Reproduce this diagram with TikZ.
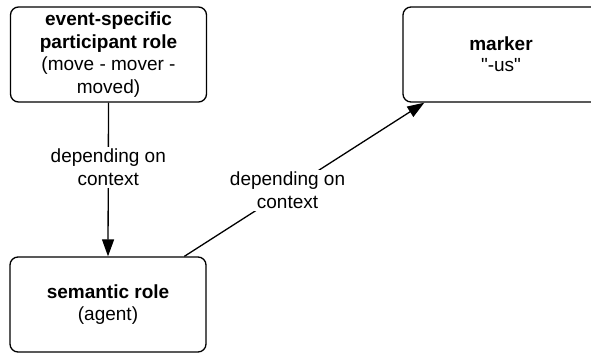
\documentclass[tikz,border=0pt]{standalone}
\usepackage{fontspec}
\setmainfont{Liberation Sans}[Ligatures=TeXOff]
\usetikzlibrary{arrows.meta,calc}
\tikzset{
  box/.style={draw=black, line width=1.3pt, rounded corners=8pt, minimum width=196pt, minimum height=95pt, align=center, inner sep=0pt, font=\fontsize{19}{22.8}\selectfont},
  conn/.style={line width=1.3pt, draw=black},
  arr/.style={-{Triangle[length=17pt,width=12pt]}},
  lbl/.style={fill=white, align=center, inner sep=2pt, font=\fontsize{19}{22.8}\selectfont}
}
\begin{document}
\begin{tikzpicture}[x=1pt,y=-1pt]
\clip (0,0) rectangle (591,353);
\useasboundingbox (0,0) rectangle (591,353);
\node[box] (top) at (108.5,54.5) {\textbf{event-specific}\\\textbf{participant role}\\(move - mover -\\moved)};
\node[box] (mark) at (501,54.5) {\textbf{marker}\\[-2pt]"-us"};
\node[box] (sem) at (108,304.5) {\textbf{semantic role}\\(agent)};
\coordinate (s) at ($(sem.north west)+(175,0)$);
\coordinate (e) at ($(mark.south west)+(22,0)$);
\draw[conn,arr] (top.south) -- node[lbl,pos=0.42] {depending on\\context} (sem.north);
\draw[conn,arr] (s) -- node[lbl,pos=0.43] {depending on\\context} (e);
\end{tikzpicture}
\end{document}
